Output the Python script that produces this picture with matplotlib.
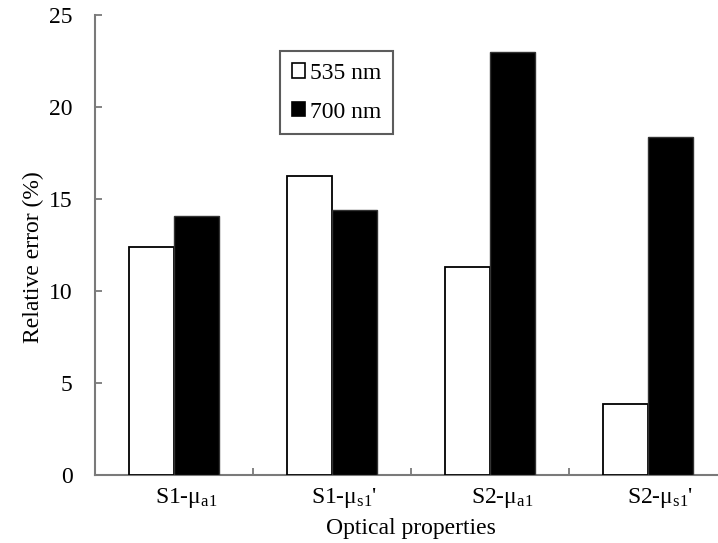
import matplotlib
matplotlib.use("Agg")
import matplotlib.pyplot as plt
import matplotlib.transforms as mtransforms
from matplotlib.patches import Patch
import numpy as np

plt.rcParams['font.family'] = ['Liberation Serif', 'DejaVu Serif']
plt.rcParams['mathtext.fontset'] = 'custom'
plt.rcParams['mathtext.rm'] = 'Liberation Serif'
plt.rcParams['mathtext.it'] = 'Liberation Serif:italic'
plt.rcParams['mathtext.default'] = 'rm'

categories = [r"S1-$\mu_{\mathrm{a1}}$", r"S1-$\mu_{\mathrm{s1}}$'",
              r"S2-$\mu_{\mathrm{a1}}$", r"S2-$\mu_{\mathrm{s1}}$'"]
err_535 = [12.37, 16.27, 11.30, 3.88]
err_700 = [14.08, 14.40, 22.97, 18.35]
series_labels = ["535 nm", "700 nm"]
y_ticks = [0, 5, 10, 15, 20, 25]

FS = 17

fig = plt.figure(figsize=(7.18, 5.43), dpi=100)
ax = fig.add_axes([95/718, 68/543, 623/718, 460/543])

x = np.arange(len(categories))
w = 0.285
spine_col = '#7a7a7a'
ax.bar(x - w/2, err_535, width=w, color='white', edgecolor='black', linewidth=1.3, zorder=3)
ax.bar(x + w/2, err_700, width=w, color='black', edgecolor='#333333', linewidth=1.0, zorder=3)

ax.set_xlim(-0.5, -0.5 + 623/158)
ax.set_ylim(0, 25)
ax.set_yticks(y_ticks)
ax.set_yticklabels([str(t) for t in y_ticks], fontsize=FS)

# boundaries as major ticks (no labels), category labels at centers
ax.set_xticks(x[:-1] + 0.5)
ax.set_xticklabels([])
ax.set_xticks(x, minor=True)
ax.set_xticklabels(categories, minor=True, fontsize=FS)
ax.tick_params(axis='x', which='minor', length=0, pad=8)
ax.tick_params(axis='x', which='major', direction='in', length=5, width=1.3, color=spine_col)
ax.tick_params(axis='y', direction='in', length=5, width=1.3, color=spine_col, pad=16)

offset = mtransforms.ScaledTranslation(12/100, 0, fig.dpi_scale_trans)
for lab in ax.xaxis.get_minorticklabels():
    lab.set_transform(lab.get_transform() + offset)

for s in ['top', 'right']:
    ax.spines[s].set_visible(False)
for s in ['left', 'bottom']:
    ax.spines[s].set_color(spine_col)
    ax.spines[s].set_linewidth(1.5)

ax.set_xlabel("Optical properties", fontsize=FS)
ax.xaxis.set_label_coords((411-95)/623, -0.094)
ax.xaxis.label.set_va('top')
ax.set_ylabel("Relative error (%)", fontsize=FS)
ax.yaxis.set_label_coords(-0.082, 0.474)

handles = [Patch(facecolor='white', edgecolor='black', linewidth=1.2),
           Patch(facecolor='black', edgecolor='black', linewidth=1.2)]
leg = fig.legend(handles, series_labels, loc='upper left',
                 bbox_to_anchor=(280/718, 1 - 51/543), fontsize=FS,
                 frameon=True, fancybox=False, edgecolor='#333333',
                 handlelength=0.55, handleheight=0.55, handletextpad=0.2,
                 labelspacing=0.75, borderpad=0.5, borderaxespad=0)
leg.get_frame().set_linewidth(1.5)

fig.savefig("out.png", dpi=100)
